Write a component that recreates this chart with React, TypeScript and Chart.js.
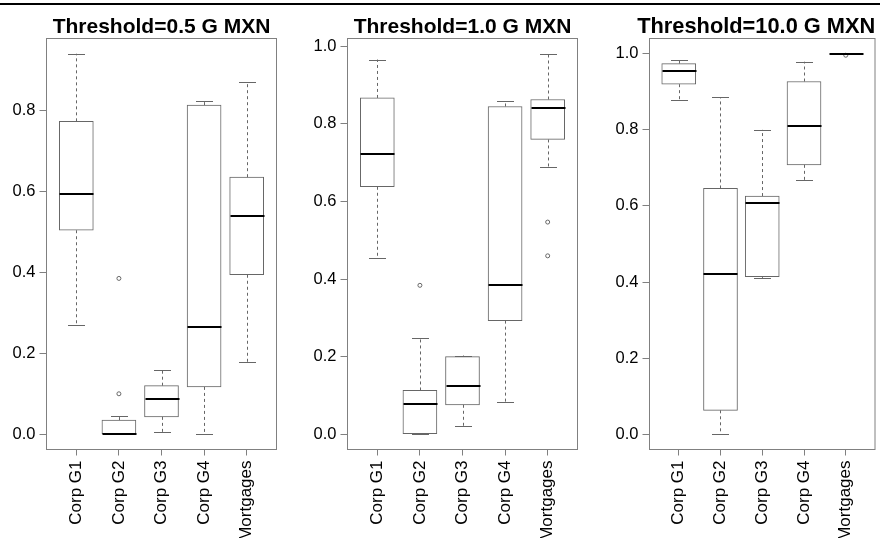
import React, { useEffect, useRef } from "react";
import { Chart, registerables } from "chart.js";

Chart.register(...registerables);

const FONT = "'Liberation Sans', Arial, Helvetica, sans-serif";

const categories = ["Corp G1", "Corp G2", "Corp G3", "Corp G4", "Mortgages"];
const categoryPositions = [1, 2, 3, 4, 5];

// Panel 1: Threshold=0.5 G MXN
const p1Lower = [0.27, 0.0, 0.005, 0.0, 0.178];
const p1Q1 = [0.504, 0.0, 0.043, 0.117, 0.394];
const p1Median = [0.593, 0.0, 0.088, 0.266, 0.538];
const p1Q3 = [0.773, 0.035, 0.12, 0.813, 0.635];
const p1Upper = [0.94, 0.044, 0.159, 0.824, 0.869];
const p1Outliers = [[], [0.385, 0.1], [], [], []];
const p1YTicks = [0, 0.2, 0.4, 0.6, 0.8];

// Panel 2: Threshold=1.0 G MXN
const p2Lower = [0.454, 0.0, 0.022, 0.083, 0.69];
const p2Q1 = [0.638, 0.0, 0.076, 0.293, 0.76];
const p2Median = [0.722, 0.078, 0.124, 0.386, 0.842];
const p2Q3 = [0.867, 0.113, 0.2, 0.845, 0.863];
const p2Upper = [0.966, 0.249, 0.203, 0.858, 0.981];
const p2Outliers = [[], [0.384], [], [], [0.547, 0.46]];
const p2YTicks = [0, 0.2, 0.4, 0.6, 0.8, 1.0];

// Panel 3: Threshold=10.0 G MXN
const p3Lower = [0.878, 0.0, 0.411, 0.668, 1.0];
const p3Q1 = [0.92, 0.063, 0.414, 0.708, 1.0];
const p3Median = [0.955, 0.422, 0.609, 0.81, 1.0];
const p3Q3 = [0.974, 0.646, 0.626, 0.927, 1.0];
const p3Upper = [0.984, 0.886, 0.8, 0.979, 1.0];
const p3Outliers = [[], [], [], [], [0.996]];
const p3YTicks = [0, 0.2, 0.4, 0.6, 0.8, 1.0];

const panelTitles = ["Threshold=0.5 G MXN", "Threshold=1.0 G MXN", "Threshold=10.0 G MXN"];

type Panel = {
  title: string;
  lower: number[];
  q1: number[];
  median: number[];
  q3: number[];
  upper: number[];
  outliers: number[][];
  yTicks: number[];
};

const panels: Panel[] = [
  { title: panelTitles[0], lower: p1Lower, q1: p1Q1, median: p1Median, q3: p1Q3, upper: p1Upper, outliers: p1Outliers, yTicks: p1YTicks },
  { title: panelTitles[1], lower: p2Lower, q1: p2Q1, median: p2Median, q3: p2Q3, upper: p2Upper, outliers: p2Outliers, yTicks: p2YTicks },
  { title: panelTitles[2], lower: p3Lower, q1: p3Q1, median: p3Median, q3: p3Q3, upper: p3Upper, outliers: p3Outliers, yTicks: p3YTicks },
];

// layout (pixels) per panel
const layouts = [
  { left: 0, width: 295, axisWidth: 46.5, padRight: 18.5, titleSize: 21, titleShift: 0 },
  { left: 295, width: 295, axisWidth: 52.5, padRight: 12.5, titleSize: 21, titleShift: 0 },
  { left: 590, width: 290, axisWidth: 59.5, padRight: 1.5, titleSize: 21.8, titleShift: -6 },
];

const LINE = "#666666";
const FRAME = "#808080";
const BOX_W = 34;

function makePlugin(p: Panel, layout: any) {
  return {
    id: "boxWhiskers",
    beforeDatasetsDraw(chart: any) {
      const { ctx, chartArea } = chart;
      ctx.save();
      ctx.strokeStyle = FRAME;
      ctx.lineWidth = 1;
      ctx.strokeRect(chartArea.left, chartArea.top, chartArea.right - chartArea.left, chartArea.bottom - chartArea.top);
      ctx.restore();
    },
    afterDatasetsDraw(chart: any) {
      const { ctx } = chart;
      const xs = chart.scales.x;
      const ys = chart.scales.y;
      ctx.save();
      categoryPositions.forEach((pos, i) => {
        const x = Math.round(xs.getPixelForValue(pos)) + 0.5;
        const yUp = ys.getPixelForValue(p.upper[i]);
        const yQ3 = ys.getPixelForValue(p.q3[i]);
        const yQ1 = ys.getPixelForValue(p.q1[i]);
        const yLo = ys.getPixelForValue(p.lower[i]);
        const yMed = ys.getPixelForValue(p.median[i]);
        ctx.strokeStyle = LINE;
        ctx.lineWidth = 1;
        ctx.setLineDash([3, 3]);
        ctx.beginPath();
        ctx.moveTo(x, yQ3);
        ctx.lineTo(x, yUp);
        ctx.moveTo(x, yQ1);
        ctx.lineTo(x, yLo);
        ctx.stroke();
        ctx.setLineDash([]);
        ctx.beginPath();
        ctx.moveTo(x - BOX_W / 4, Math.round(yUp) + 0.5);
        ctx.lineTo(x + BOX_W / 4, Math.round(yUp) + 0.5);
        ctx.moveTo(x - BOX_W / 4, Math.round(yLo) + 0.5);
        ctx.lineTo(x + BOX_W / 4, Math.round(yLo) + 0.5);
        ctx.stroke();
        ctx.strokeStyle = "#000000";
        ctx.lineWidth = 2;
        ctx.beginPath();
        ctx.moveTo(x - BOX_W / 2, Math.round(yMed));
        ctx.lineTo(x + BOX_W / 2, Math.round(yMed));
        ctx.stroke();
      });
      ctx.restore();
    },
    afterDraw(chart: any) {
      const { ctx, chartArea } = chart;
      ctx.save();
      ctx.fillStyle = "#000000";
      ctx.font = `bold ${layout.titleSize}px ${FONT}`;
      ctx.textAlign = "center";
      ctx.textBaseline = "alphabetic";
      ctx.fillText(p.title, (chartArea.left + chartArea.right) / 2 + layout.titleShift, 32.5);
      ctx.restore();
    },
  };
}

function PanelChart({ panel, layout }: { panel: Panel; layout: any }) {
  const ref = useRef<HTMLCanvasElement>(null);
  useEffect(() => {
    if (!ref.current) return;
    const all: number[] = [];
    panel.lower.forEach((v) => all.push(v));
    panel.upper.forEach((v) => all.push(v));
    panel.outliers.forEach((arr) => arr.forEach((v) => all.push(v)));
    const lo = Math.min(...all);
    const hi = Math.max(...all);
    const ext = (hi - lo) * 0.04;

    const boxData = categoryPositions.map((pos, i) => ({ x: pos, y: [panel.q1[i], panel.q3[i]] }));
    const outlierData: { x: number; y: number }[] = [];
    panel.outliers.forEach((arr, i) => arr.forEach((v) => outlierData.push({ x: categoryPositions[i], y: v })));

    const chart = new Chart(ref.current, {
      type: "bar",
      data: {
        datasets: [
          {
            type: "bar",
            data: boxData as any,
            backgroundColor: "#ffffff",
            borderColor: LINE,
            borderWidth: 1,
            borderSkipped: false,
            barThickness: BOX_W,
          } as any,
          {
            type: "scatter",
            data: outlierData as any,
            pointRadius: 2,
            pointStyle: "circle",
            borderColor: LINE,
            backgroundColor: "rgba(0,0,0,0)",
            borderWidth: 1,
          } as any,
        ],
      },
      options: {
        responsive: false,
        animation: false,
        events: [],
        layout: { padding: { left: 0, right: layout.padRight, top: 38.5, bottom: 0 } },
        plugins: {
          legend: { display: false },
          tooltip: { enabled: false },
          title: { display: false },
        },
        scales: {
          x: {
            type: "linear",
            min: 0.3,
            max: 5.7,
            offset: false,
            afterBuildTicks: (s: any) => {
              s.ticks = categoryPositions.map((v) => ({ value: v }));
            },
            afterFit: (s: any) => {
              s.height = 88.5;
            },
            grid: { display: true, drawOnChartArea: false, drawTicks: true, tickLength: 6, color: FRAME, offset: false },
            border: { display: false },
            ticks: {
              autoSkip: false,
              minRotation: 90,
              maxRotation: 90,
              padding: 5,
              color: "#000000",
              font: { family: FONT, size: 17 },
              callback: (_v: any, i: number) => categories[i],
            },
          },
          y: {
            type: "linear",
            min: lo - ext,
            max: hi + ext,
            afterBuildTicks: (s: any) => {
              s.ticks = panel.yTicks.map((v) => ({ value: v }));
            },
            afterFit: (s: any) => {
              s.width = layout.axisWidth;
            },
            grid: { display: true, drawOnChartArea: false, drawTicks: true, tickLength: 7, color: FRAME },
            border: { display: false },
            ticks: {
              padding: 4,
              color: "#000000",
              font: { family: FONT, size: 16.5 },
              callback: (v: any) => Number(v).toFixed(1),
            },
          },
        },
      } as any,
      plugins: [makePlugin(panel, layout)],
    });
    return () => chart.destroy();
  }, [panel, layout]);

  return (
    <canvas
      ref={ref}
      width={layout.width}
      height={538}
      style={{ position: "absolute", left: layout.left, top: 0, width: layout.width, height: 538 }}
    />
  );
}

export default function App() {
  return (
    <div style={{ position: "absolute", left: 0, top: 0, width: 880, height: 538, background: "#ffffff", overflow: "hidden" }}>
      {panels.map((p, i) => (
        <PanelChart key={i} panel={p} layout={layouts[i]} />
      ))}
      <div style={{ position: "absolute", left: 0, top: 3, width: 880, height: 2, background: "#000000" }} />
    </div>
  );
}
